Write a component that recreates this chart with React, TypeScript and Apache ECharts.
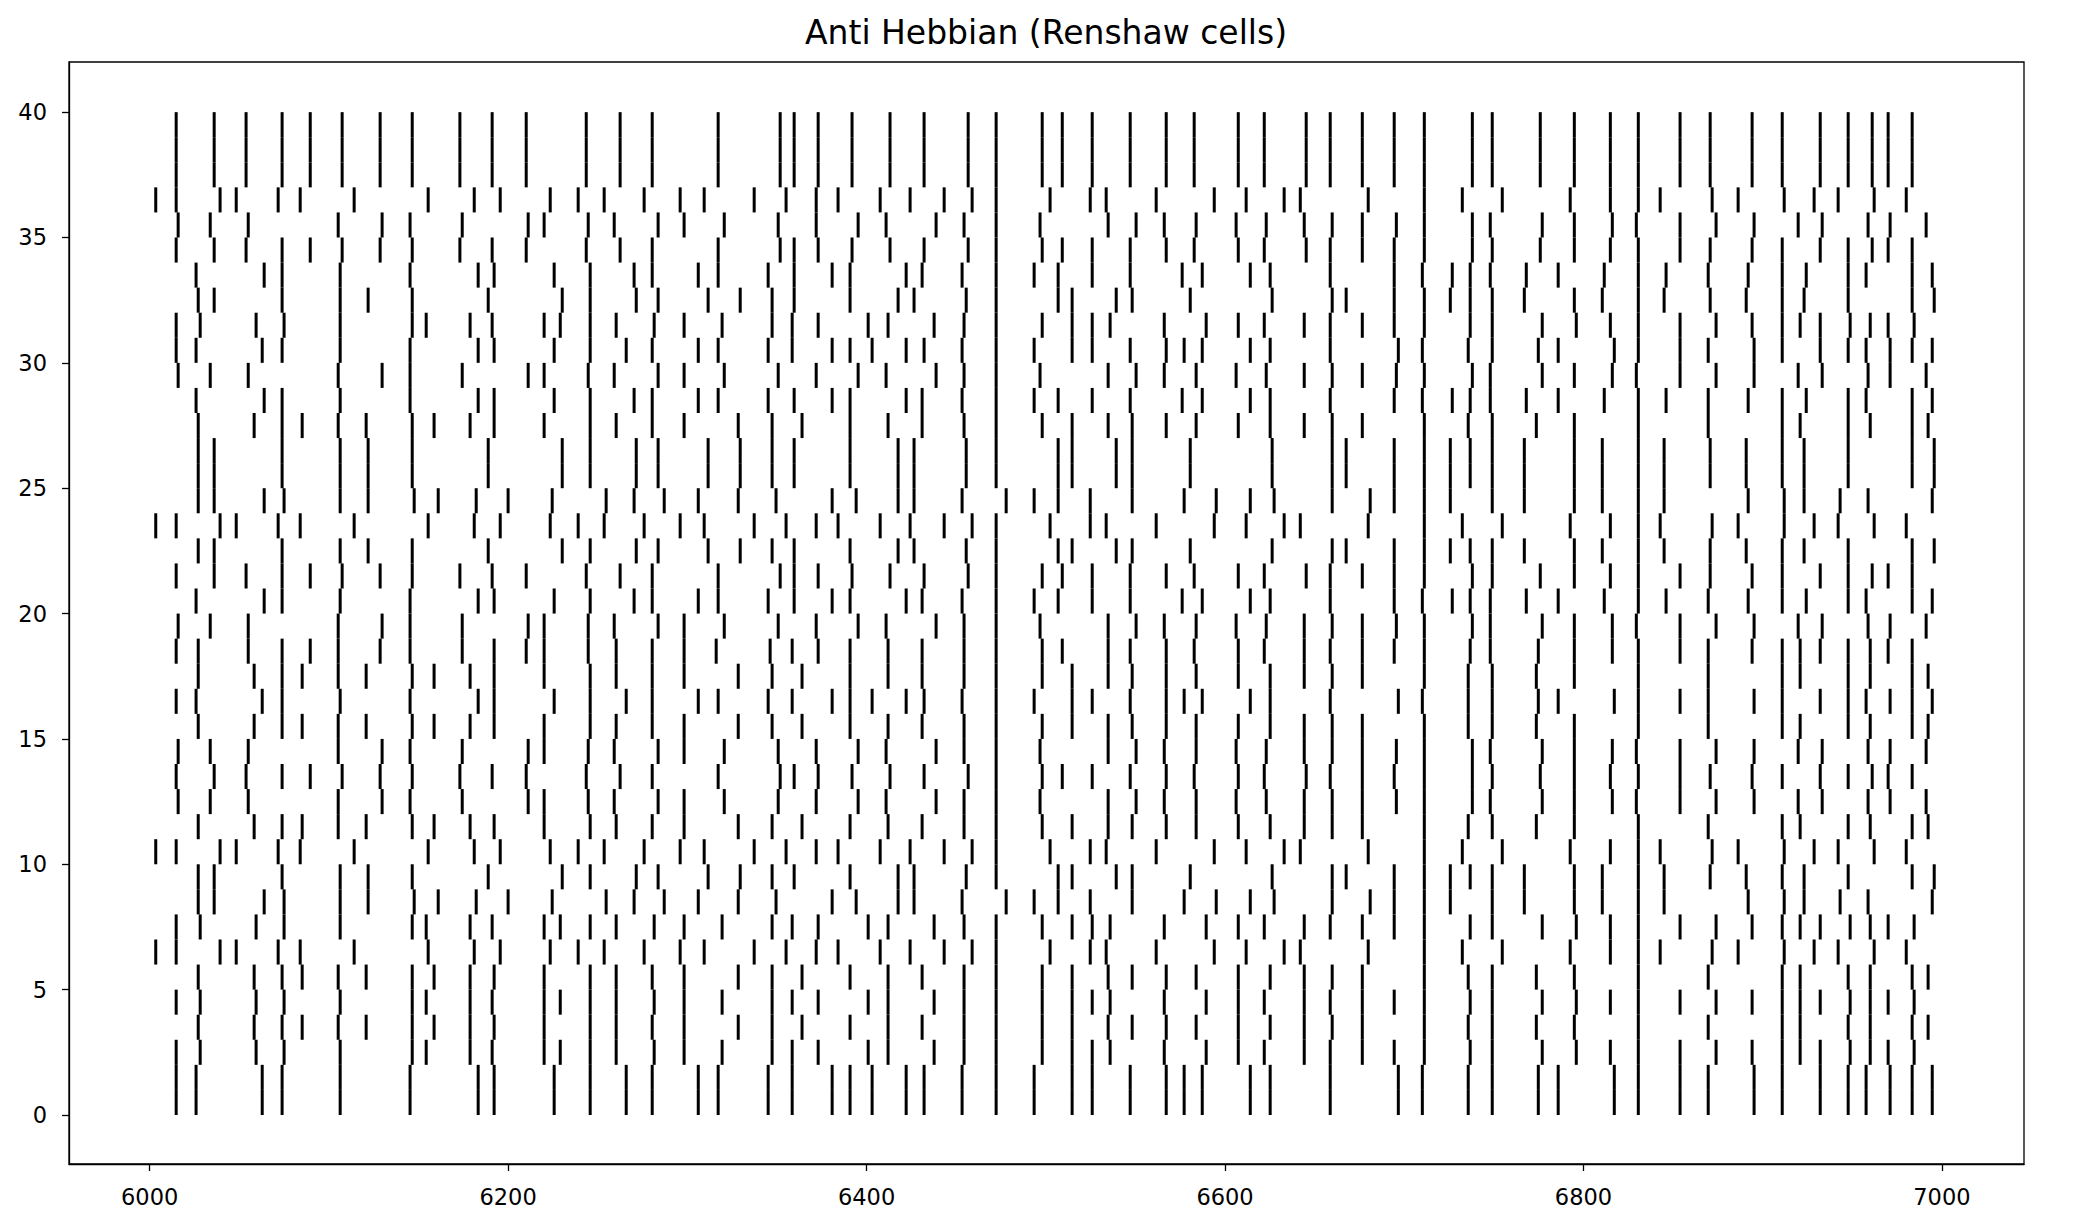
import React, { useEffect, useRef } from "react";
import * as echarts from "echarts";

// Spike trains (ms). Several neurons share an identical train; each named train below
// was read from the raster, and NEURON_TRAIN assigns one to every neuron row (0..39).
const trainT = [6014.8, 6036.0, 6053.8, 6073.9, 6089.6, 6107.4, 6128.6, 6146.5, 6173.1, 6191.1, 6210.1, 6243.6, 6262.5, 6280.4, 6317.2, 6351.8, 6359.6, 6373.0, 6391.9, 6413.1, 6432.1, 6456.7, 6472.3, 6498.0, 6509.2, 6525.9, 6547.1, 6567.2, 6582.8, 6607.4, 6621.9, 6645.3, 6658.7, 6676.6, 6694.4, 6711.2, 6738.0, 6749.1, 6775.9, 6794.9, 6815.0, 6830.6, 6853.9, 6870.7, 6894.1, 6910.9, 6932.1, 6947.7, 6961.1, 6970.0, 6983.4];
const trainU = [6003.4, 6014.8, 6039.3, 6048.3, 6071.7, 6084.0, 6114.1, 6155.4, 6181.1, 6195.6, 6223.5, 6239.1, 6253.6, 6275.9, 6296.0, 6309.4, 6337.3, 6355.1, 6371.9, 6384.1, 6407.6, 6424.3, 6443.3, 6458.9, 6472.3, 6502.4, 6524.8, 6533.7, 6561.6, 6594.0, 6611.8, 6633.0, 6642.0, 6679.9, 6711.2, 6732.4, 6754.7, 6792.6, 6815.0, 6830.6, 6842.8, 6871.8, 6886.3, 6912.0, 6928.7, 6942.1, 6962.2, 6980.1];
const trainV = [6015.9, 6033.8, 6055.0, 6105.2, 6129.7, 6145.3, 6174.4, 6211.2, 6220.1, 6244.7, 6259.2, 6283.7, 6298.2, 6320.6, 6350.7, 6371.9, 6395.3, 6410.9, 6438.8, 6454.4, 6472.3, 6496.8, 6534.8, 6550.4, 6566.1, 6583.9, 6606.2, 6623.0, 6644.2, 6659.8, 6676.6, 6695.6, 6711.2, 6738.0, 6748.0, 6777.0, 6794.9, 6816.1, 6829.5, 6853.9, 6874.0, 6895.2, 6919.8, 6933.2, 6958.8, 6971.1, 6991.2];
const trainW = [6025.9, 6063.9, 6073.9, 6106.3, 6145.3, 6183.3, 6192.2, 6225.7, 6245.8, 6270.3, 6280.4, 6306.1, 6317.2, 6345.1, 6359.6, 6380.8, 6390.8, 6422.1, 6431.0, 6453.3, 6472.3, 6493.5, 6506.9, 6525.9, 6547.1, 6576.1, 6587.3, 6614.1, 6625.2, 6658.7, 6694.4, 6710.1, 6726.8, 6736.8, 6748.0, 6768.1, 6785.9, 6811.6, 6830.6, 6846.1, 6869.6, 6891.9, 6910.9, 6924.3, 6947.7, 6957.7, 6983.4, 6994.6];
const trainX = [6027.1, 6036.0, 6073.9, 6106.3, 6121.9, 6146.5, 6188.9, 6230.2, 6245.8, 6271.5, 6283.7, 6311.6, 6329.5, 6347.3, 6359.6, 6390.8, 6417.6, 6426.5, 6455.6, 6472.3, 6506.9, 6514.7, 6539.3, 6548.2, 6580.6, 6626.3, 6659.8, 6667.6, 6694.4, 6711.2, 6725.7, 6736.8, 6749.1, 6767.0, 6794.9, 6810.5, 6830.6, 6845.0, 6870.7, 6890.8, 6910.9, 6923.1, 6947.7, 6983.4, 6995.7];
const trainY = [6014.8, 6028.2, 6059.4, 6075.0, 6106.3, 6146.5, 6154.3, 6178.8, 6191.1, 6220.1, 6229.1, 6245.8, 6260.3, 6281.5, 6298.2, 6319.4, 6347.3, 6358.5, 6373.0, 6400.9, 6412.0, 6437.7, 6454.4, 6472.3, 6498.0, 6514.7, 6525.9, 6535.9, 6566.1, 6589.5, 6607.4, 6621.9, 6644.2, 6658.7, 6676.6, 6694.4, 6711.2, 6736.8, 6749.1, 6777.0, 6796.0, 6815.0, 6830.6, 6853.9, 6874.0, 6894.1, 6910.9, 6920.9, 6932.1, 6948.8, 6960.0, 6970.0, 6984.5];
const trainZ = [6014.8, 6025.9, 6062.8, 6073.9, 6106.3, 6145.3, 6183.3, 6192.2, 6225.7, 6245.8, 6265.9, 6280.4, 6306.1, 6317.2, 6345.1, 6358.5, 6380.8, 6390.8, 6403.1, 6422.1, 6432.1, 6453.3, 6472.3, 6493.5, 6514.7, 6525.9, 6547.1, 6567.2, 6577.2, 6587.3, 6614.1, 6625.2, 6658.7, 6696.7, 6710.1, 6735.7, 6749.1, 6774.8, 6785.9, 6817.2, 6830.6, 6853.9, 6869.6, 6895.2, 6910.9, 6932.1, 6947.7, 6957.7, 6971.1, 6983.4, 6994.6];
const trainQ = [6027.1, 6058.3, 6073.9, 6085.1, 6105.2, 6120.8, 6146.5, 6158.7, 6178.8, 6192.2, 6220.1, 6245.8, 6260.3, 6280.4, 6298.2, 6328.4, 6347.3, 6364.0, 6390.8, 6412.0, 6431.0, 6454.4, 6472.3, 6498.0, 6514.7, 6534.8, 6548.2, 6567.2, 6583.9, 6607.4, 6625.2, 6644.2, 6659.8, 6676.6, 6711.2, 6735.7, 6749.1, 6773.7, 6794.9, 6830.6, 6869.6, 6910.9, 6920.9, 6947.7, 6960.0, 6983.4, 6992.3];
const trainR = [6027.1, 6036.0, 6063.9, 6075.0, 6106.3, 6121.9, 6147.6, 6161.0, 6182.2, 6200.0, 6224.6, 6254.7, 6270.3, 6287.1, 6306.1, 6328.4, 6349.5, 6380.8, 6394.2, 6417.6, 6426.5, 6453.3, 6477.9, 6493.5, 6506.9, 6524.8, 6548.2, 6577.2, 6595.1, 6614.1, 6627.4, 6659.8, 6681.0, 6694.4, 6711.2, 6725.7, 6749.1, 6767.0, 6794.9, 6810.5, 6830.6, 6845.0, 6891.9, 6912.0, 6923.1, 6943.2, 6958.8, 6994.6];
const trainS = [6014.8, 6027.1, 6055.0, 6073.9, 6089.6, 6105.2, 6128.6, 6145.3, 6174.4, 6192.2, 6210.1, 6220.1, 6244.7, 6260.3, 6280.4, 6298.2, 6316.1, 6346.2, 6358.5, 6373.0, 6390.8, 6412.0, 6431.0, 6454.4, 6472.3, 6498.0, 6509.2, 6534.8, 6547.1, 6567.2, 6582.8, 6607.4, 6621.9, 6644.2, 6658.7, 6676.6, 6694.4, 6711.2, 6736.8, 6748.0, 6774.8, 6794.9, 6816.1, 6830.6, 6853.9, 6869.6, 6894.1, 6910.9, 6920.9, 6932.1, 6947.7, 6960.0, 6970.0, 6983.4];

// Train used by each neuron row, from neuron 0 (bottom) to neuron 39 (top).
const NEURON_TRAIN = [
  "Z", "Z", "Y", "Q", "Y", "Q", "U", "Y", "R", "X",
  "U", "Q", "V", "T", "V", "Q", "Z", "Q", "S", "V",
  "W", "T", "X", "U", "R", "X", "X", "Q", "W", "V",
  "Z", "Y", "X", "W", "T", "V", "U", "T", "T", "T",
];

const X_TICKS = [6000, 6200, 6400, 6600, 6800, 7000];
const Y_TICKS = [0, 5, 10, 15, 20, 25, 30, 35, 40];
const TITLE = "Anti Hebbian (Renshaw cells)";

const TRAIN_LOOKUP: Record<string, number[]> = {
  T: trainT, U: trainU, V: trainV, W: trainW, X: trainX,
  Y: trainY, Z: trainZ, Q: trainQ, R: trainR, S: trainS,
};

export default function App() {
  const ref = useRef<HTMLDivElement>(null);
  useEffect(() => {
    if (!ref.current) return;
    const chart = echarts.init(ref.current, undefined, { renderer: "svg" });
    const data: number[][] = [];
    NEURON_TRAIN.forEach((key, n) => {
      TRAIN_LOOKUP[key].forEach((t) => data.push([t, n]));
    });
    const font = "DejaVu Sans";
    const plain = (v: number) => String(v);
    chart.setOption({
      animation: false,
      backgroundColor: "#fff",
      title: {
        text: TITLE,
        left: 1046,
        top: 16,
        textAlign: "center",
        padding: 0,
        textStyle: { fontFamily: font, fontSize: 33, fontWeight: "normal", color: "#000" },
      },
      grid: {
        left: 69,
        top: 62,
        width: 1955,
        height: 1102,
        show: true,
        borderColor: "#000",
        borderWidth: 1.3,
        backgroundColor: "transparent",
      },
      xAxis: {
        type: "value",
        min: 5955,
        max: 7045.8,
        splitLine: { show: false },
        axisLine: { show: true, onZero: false, lineStyle: { color: "#000", width: 1.3 } },
        axisTick: { show: true, length: 7, customValues: X_TICKS, lineStyle: { color: "#000", width: 1.3 } },
        axisLabel: { customValues: X_TICKS, formatter: plain, color: "#000", fontFamily: font, fontSize: 22.5, margin: 21 },
      },
      yAxis: {
        type: "value",
        min: -1.955,
        max: 42,
        splitLine: { show: false },
        axisLine: { show: true, onZero: false, lineStyle: { color: "#000", width: 1.3 } },
        axisTick: { show: true, length: 7, customValues: Y_TICKS, lineStyle: { color: "#000", width: 1.3 } },
        axisLabel: { customValues: Y_TICKS, formatter: plain, color: "#000", fontFamily: font, fontSize: 22.5, margin: 22 },
      },
      series: [
        {
          type: "custom",
          coordinateSystem: "cartesian2d",
          data,
          encode: { x: 0, y: 1 },
          renderItem: (params: any, api: any) => {
            const t = api.value(0);
            const n = api.value(1);
            const p0 = api.coord([t, n]);
            const p1 = api.coord([t, n + 1]);
            return {
              type: "line",
              shape: { x1: p0[0], y1: p0[1], x2: p1[0], y2: p1[1] },
              style: { stroke: "#000", lineWidth: 3, lineCap: "butt" },
            };
          },
        },
      ],
    });
    return () => chart.dispose();
  }, []);
  return (
    <div
      ref={ref}
      style={{ position: "absolute", left: 0, top: 0, width: 2074, height: 1232 }}
    />
  );
}
